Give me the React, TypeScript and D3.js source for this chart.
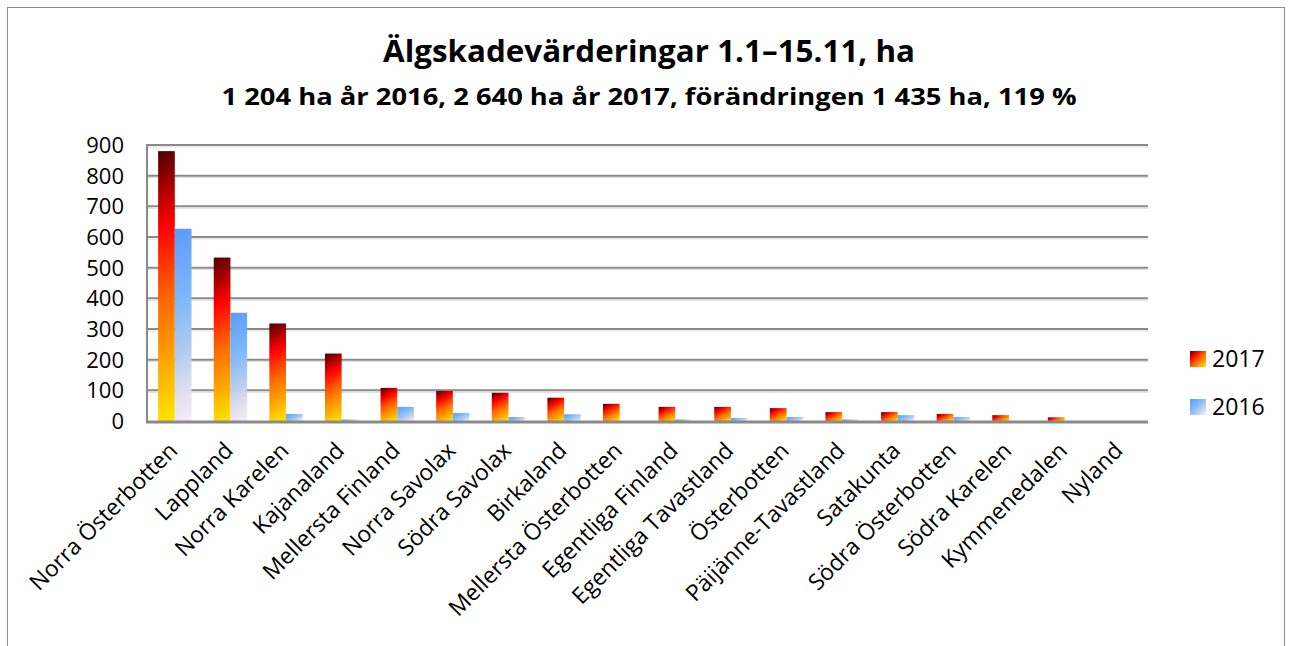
import React from "react";
import * as d3 from "d3";

const categories = [
  "Norra Österbotten", "Lappland", "Norra Karelen", "Kajanaland", "Mellersta Finland",
  "Norra Savolax", "Södra Savolax", "Birkaland", "Mellersta Österbotten", "Egentliga Finland",
  "Egentliga Tavastland", "Österbotten", "Päijänne-Tavastland", "Satakunta", "Södra Österbotten",
  "Södra Karelen", "Kymmenedalen", "Nyland",
];
const values2017 = [880, 533, 318, 220, 108, 98, 92, 76, 56, 46, 46, 42, 29, 29, 23, 19, 12, 0];
const values2016 = [627, 353, 23, 5, 46, 26, 13, 22, 0, 5, 10, 13, 5, 19, 13, 0, 0, 0];
const seriesNames = ["2017", "2016"];
const yTicks = [0, 100, 200, 300, 400, 500, 600, 700, 800, 900];
const title = "Älgskadevärderingar 1.1–15.11, ha";
const subtitle = "1 204 ha år 2016, 2 640 ha år 2017, förändringen 1 435 ha, 119 %";

const W = 1291, H = 646;
const plot = { left: 147, right: 1148, top: 145, bottom: 421 };
const FONT = "'Open Sans', 'DejaVu Sans', sans-serif";

const stops2017 = [
  [0, "#4e0000"], [0.28, "#ff0000"], [0.55, "#ff6a00"], [0.78, "#ffa800"], [1, "#ffe800"],
];
const stops2016 = [
  [0, "#5c9bff"], [0.35, "#7ab6fb"], [0.65, "#b4cdee"], [0.85, "#e4e0f2"], [1, "#faeaf8"],
];

const ANG = (62 * Math.PI) / 180;

export default function App() {
  const x = d3.scaleBand<string>().domain(categories).range([plot.left, plot.right]).paddingInner(0.4).paddingOuter(0.2);
  const xs = d3.scaleBand<string>().domain(seriesNames).range([0, x.bandwidth()]).padding(0);
  const y = d3.scaleLinear().domain([0, 900]).range([plot.bottom, plot.top]);

  const bars: any[] = [];
  categories.forEach((c, i) => {
    [values2017[i], values2016[i]].forEach((v, s) => {
      if (v <= 0) return;
      const bx = (x(c) as number) + (xs(seriesNames[s]) as number);
      const by = y(v);
      const bw = xs.bandwidth();
      const bh = plot.bottom - by;
      const L = bw * Math.cos(ANG) + bh * Math.sin(ANG);
      bars.push({
        id: `g${s}-${i}`, s, bx, by, bw, bh,
        x2: bx + L * Math.cos(ANG), y2: by + L * Math.sin(ANG),
      });
    });
  });

  const legendItems = [
    { name: "2017", stops: stops2017, y: 359 },
    { name: "2016", stops: stops2016, y: 407 },
  ];

  return (
    <div style={{ position: "fixed", left: 0, top: 0 }}>
      <svg width={W} height={H} style={{ display: "block", background: "#fff" }} fontFamily={FONT}>
        <defs>
          {bars.map((b) => (
            <linearGradient key={b.id} id={b.id} gradientUnits="userSpaceOnUse" x1={b.bx} y1={b.by} x2={b.x2} y2={b.y2}>
              {(b.s === 0 ? stops2017 : stops2016).map(([o, c]) => (
                <stop key={String(o)} offset={o as number} stopColor={c as string} />
              ))}
            </linearGradient>
          ))}
          {legendItems.map((l) => (
            <linearGradient key={l.name} id={`leg${l.name}`} x1="0" y1="0" x2="1" y2="1">
              {l.stops.map(([o, c]) => (
                <stop key={String(o)} offset={o as number} stopColor={c as string} />
              ))}
            </linearGradient>
          ))}
        </defs>
        <rect x={7.5} y={7.5} width={1277} height={660} fill="#fff" stroke="#8c8c8c" strokeWidth={1} />

        <text x={649} y={62} textAnchor="middle" fontSize={31} fontWeight="bold" fill="#000" textLength={532} lengthAdjust="spacingAndGlyphs">{title}</text>
        <text x={649} y={105} textAnchor="middle" fontSize={24} fontWeight="bold" fill="#000" textLength={855} lengthAdjust="spacingAndGlyphs">{subtitle}</text>

        {yTicks.map((t) => (
          <g key={t}>
            {t > 0 && (
              <>
                <line x1={plot.left} x2={plot.right} y1={y(t) + 2} y2={y(t) + 2} stroke="#dcdcdc" strokeWidth={1} />
                <line x1={plot.left} x2={plot.right} y1={y(t)} y2={y(t)} stroke="#8a8a8a" strokeWidth={2} />
              </>
            )}
            <text x={124} y={y(t)} dy="0.36em" textAnchor="end" fontSize={22} fill="#000">{t}</text>
          </g>
        ))}

        {bars.map((b) => (
          <rect key={b.id} x={b.bx} y={b.by} width={b.bw} height={b.bh} fill={`url(#${b.id})`} />
        ))}

        <line x1={plot.left} x2={plot.left} y1={plot.top - 1} y2={plot.bottom + 1} stroke="#8a8a8a" strokeWidth={2} />
        <line x1={plot.left - 1} x2={plot.right} y1={plot.bottom + 1} y2={plot.bottom + 1} stroke="#8a8a8a" strokeWidth={3} />

        {categories.map((c) => {
          const cx = (x(c) as number) + x.bandwidth() / 2 + 4;
          const cy = plot.bottom + 31;
          return (
            <text key={c} x={cx} y={cy} textAnchor="end" fontSize={22.8} fill="#000" transform={`rotate(-45 ${cx} ${cy})`}>{c}</text>
          );
        })}

        {legendItems.map((l) => (
          <g key={l.name}>
            <rect x={1190} y={l.y - 8} width={16} height={16} fill={`url(#leg${l.name})`} />
            <text x={1212} y={l.y} dy="0.36em" fontSize={23} fill="#000">{l.name}</text>
          </g>
        ))}
      </svg>
    </div>
  );
}
